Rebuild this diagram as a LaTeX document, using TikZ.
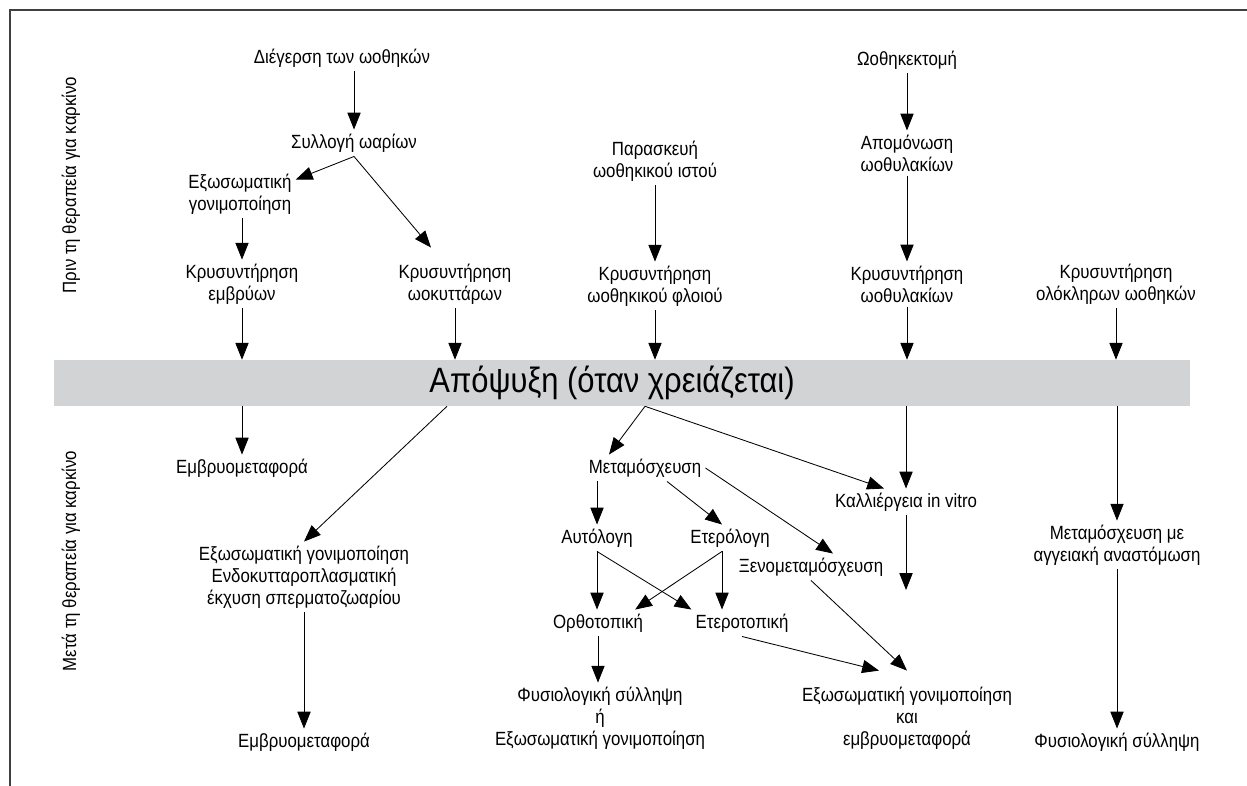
\documentclass[tikz,border=0pt]{standalone}
\usepackage{fontspec}
\setmainfont{Liberation Sans}[FakeStretch=0.88]
\usetikzlibrary{arrows.meta}
\definecolor{bandgray}{RGB}{209,211,212}
\definecolor{framegray}{RGB}{64,64,64}
\begin{document}
\begin{tikzpicture}[x=0.025cm,y=-0.025cm,
    lbl/.style={align=center,inner sep=0.1cm,font=\fontsize{13.6}{15.6}\selectfont},
    band/.style={fill=bandgray,minimum width=28.4cm,minimum height=1.15cm,inner sep=0pt,font=\fontsize{25}{28}\selectfont},
    arr/.style={line width=0.6pt,-{Triangle[length=0.42cm,width=0.33cm]}},
    frame/.style={draw=framegray,line width=1.8pt}]
    \useasboundingbox (0,0) rectangle (1247,786);
    \draw[frame] (1247,10) -- (10,10) -- (10,786);

    \node[lbl,rotate=90] (prin) at (71,185) {Πριν τη θεραπεία για καρκίνο};
    \node[lbl,rotate=90] (meta0) at (71,561) {Μετά τη θεραπεία για καρκίνο};

    \node[lbl] (dieg) at (342,58) {Διέγερση των ωοθηκών};
    \node[lbl] (syll) at (354,143) {Συλλογή ωαρίων};
    \node[lbl] (exo1) at (240,194) {Εξωσωματική\\γονιμοποίηση};
    \node[lbl] (kry1) at (242,284) {Κρυσυντήρηση\\εμβρύων};
    \node[lbl] (kry2) at (455,284) {Κρυσυντήρηση\\ωοκυττάρων};
    \node[lbl] (para) at (655,161) {Παρασκευή\\ωοθηκικού ιστού};
    \node[lbl] (kry3) at (655,286) {Κρυσυντήρηση\\ωοθηκικού φλοιού};
    \node[lbl] (ooth) at (907,60) {Ωοθηκεκτομή};
    \node[lbl] (apom) at (907,153) {Απομόνωση\\ωοθυλακίων};
    \node[lbl] (kry4) at (907,284) {Κρυσυντήρηση\\ωοθυλακίων};
    \node[lbl] (kry5) at (1116,284) {Κρυσυντήρηση\\ολόκληρων ωοθηκών};

    \node[band] (apop) at (622,383) {Απόψυξη (όταν χρειάζεται)\hspace{0.5cm}\null};

    \node[lbl] (embr1) at (242,468) {Εμβρυομεταφορά};
    \node[lbl] (exo2) at (304,577) {Εξωσωματική γονιμοποίηση\\Ενδοκυτταροπλασματική\\έκχυση σπερματοζωαρίου};
    \node[lbl] (embr2) at (304,742) {Εμβρυομεταφορά};
    \node[lbl] (meta) at (645,468) {Μεταμόσχευση};
    \node[lbl] (kall) at (906,502) {Καλλιέργεια in vitro};
    \coordinate (kallend) at (906,590);
    \node[lbl] (auto) at (597,538) {Αυτόλογη};
    \node[lbl] (etero) at (730,538) {Ετερόλογη};
    \node[lbl] (xeno) at (811,567) {Ξενομεταμόσχευση};
    \node[lbl] (orth) at (598,623) {Ορθοτοπική};
    \node[lbl] (eterot) at (742,623) {Ετεροτοπική};
    \node[lbl] (fysio1) at (600,718) {Φυσιολογική σύλληψη\\ή\\Εξωσωματική γονιμοποίηση};
    \node[lbl] (exo3) at (907,718) {Εξωσωματική γονιμοποίηση\\και\\εμβρυομεταφορά};
    \node[lbl] (meta2) at (1117,545) {Μεταμόσχευση με\\αγγειακή αναστόμωση};
    \node[lbl] (fysio2) at (1117,742) {Φυσιολογική σύλληψη};

    \draw[arr] (dieg.south -| syll) -- (syll.north);
    \draw[arr] (syll.south) -- ([yshift=-0.25cm]exo1.north east);
    \draw[arr] (syll.south) -- ([xshift=-0.6cm,yshift=0.3cm]kry2.north);
    \draw[arr] (exo1.south -| kry1) -- (kry1.north);
    \draw[arr] (para.south) -- (kry3.north);
    \draw[arr] (ooth.south) -- (apom.north);
    \draw[arr] (apom.south) -- (kry4.north);
    \foreach \k in {kry1,kry2,kry3,kry4,kry5}
      \draw[arr] (\k.south) -- (\k.south |- apop.north);

    \draw[arr] (apop.south -| embr1) -- (embr1.north);
    \draw[arr] ([xshift=-0.2cm]apop.south -| kry2) -- (exo2.north);
    \draw[arr] (exo2.south) -- (embr2.north);
    \draw[arr] (apop.south -| meta) -- ([xshift=-0.9cm]meta.north);
    \draw[arr] (apop.south -| meta) -- ([xshift=-0.55cm]kall.north);
    \draw[arr] (apop.south -| kall) -- (kall.north);
    \draw[arr] (kall.south) -- (kallend);
    \draw[arr] (meta.south -| auto) -- (auto.north);
    \draw[arr] ([xshift=0.55cm]meta.south) -- ([xshift=-0.2cm]etero.north);
    \draw[arr] (meta.east) -- ([xshift=0.55cm]xeno.north);
    \draw[arr] (auto.south) -- (auto.south |- orth.north);
    \draw[arr] (auto.south) -- (eterot.north west);
    \draw[arr] ([xshift=-0.2cm]etero.south) -- ([xshift=-0.3cm]orth.north east);
    \draw[arr] ([xshift=-0.2cm]etero.south) -- ([xshift=-0.2cm]etero.south |- eterot.north);
    \draw[arr] (orth.south) -- (orth.south |- fysio1.north);
    \draw[arr] (eterot.south) -- ([xshift=-0.7cm,yshift=0.3cm]exo3.north);
    \draw[arr] (xeno.south) -- ([yshift=0.3cm]exo3.north);
    \draw[arr] (apop.south -| meta2) -- (meta2.north);
    \draw[arr] (meta2.south) -- (fysio2.north);
  \end{tikzpicture}
\end{document}
